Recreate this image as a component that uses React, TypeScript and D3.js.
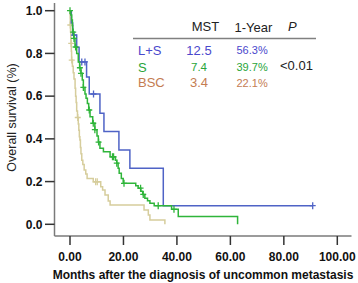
import React from "react";
import * as d3 from "d3";

// ---- data (months, survival proportion after each event) ----
const lsTimes = [0.5, 1.0, 2.5, 3.4, 6.2, 7.2, 11.2, 12.7, 18.3, 22.4, 34.9];
const lsSurv = [0.943, 0.886, 0.829, 0.76, 0.69, 0.61, 0.52, 0.434, 0.348, 0.262, 0.087];
const lsEnd = 90.8;
const lsCensor = [1.5, 4.4, 5.6, 8.8, 90.8];

const sTimes = [0.3, 0.64, 0.9, 1.0, 1.4, 1.87, 2.5, 3.1, 3.6, 4.1, 4.6, 5.0, 5.6, 6.0, 6.5, 7.0, 7.5, 8.5, 9.3, 10.1, 10.6, 11.2, 12.5, 15.0, 17.0, 17.5, 18.0, 18.4, 19.2, 19.9, 24.6, 25.5, 26.5, 27.2, 28.0, 29.0, 29.9, 31.5, 38.0, 40.5, 62.7];
const sSurv = [0.98, 0.957, 0.93, 0.9, 0.87, 0.83, 0.8, 0.76, 0.733, 0.707, 0.675, 0.641, 0.61, 0.59, 0.566, 0.535, 0.504, 0.473, 0.443, 0.413, 0.385, 0.356, 0.34, 0.316, 0.3, 0.286, 0.262, 0.239, 0.215, 0.192, 0.18, 0.169, 0.155, 0.14, 0.122, 0.11, 0.098, 0.087, 0.07, 0.036, 0];
const sEnd = 62.7;
const sCensor = [0, 1.2, 1.5, 2.1, 3.7, 4.1, 5.0, 7.2, 8.7, 9.3, 10.7, 15.9, 16.3, 17.5, 20.2, 26.4, 27.4, 33.0, 38.9];

const bscTimes = [0.05, 0.1, 0.2, 0.3, 0.4, 0.5, 0.6, 0.9, 1.2, 1.5, 1.9, 2.1, 2.3, 2.5, 2.8, 3.1, 3.3, 3.5, 3.7, 3.9, 4.1, 4.4, 4.8, 5.3, 5.9, 6.4, 8.7, 11.5, 12.2, 13.1, 14.3, 15.0, 27.7, 29.3, 29.9, 35.5];
const bscSurv = [0.967, 0.933, 0.9, 0.867, 0.847, 0.81, 0.769, 0.74, 0.71, 0.68, 0.637, 0.6, 0.57, 0.53, 0.5, 0.47, 0.44, 0.41, 0.395, 0.36, 0.33, 0.3, 0.28, 0.254, 0.235, 0.215, 0.199, 0.176, 0.161, 0.137, 0.109, 0.09, 0.067, 0.044, 0.02, 0];
const bscEnd = 35.5;
const bscCensor = [0.12, 0.45, 0.65, 2.9, 9.6, 10.2];

const xTicks = [0, 20, 40, 60, 80, 100];
const xTickLabels = ["0.00", "20.00", "40.00", "60.00", "80.00", "100.00"];
const yTicks = [0, 0.2, 0.4, 0.6, 0.8, 1.0];
const yTickLabels = ["0.0", "0.2", "0.4", "0.6", "0.8", "1.0"];

const groupNames = ["L+S", "S", "BSC"];
const mstValues = ["12.5", "7.4", "3.4"];
const oneYearValues = ["56.3%", "39.7%", "22.1%"];
const pValue = "<0.01";

const FONT = "'Liberation Sans', Arial, sans-serif";

const x = d3.scaleLinear().domain([0, 100]).range([70, 337.3]);
const y = d3.scaleLinear().domain([0, 1]).range([224.3, 10.7]);

function stepPts(times: number[], surv: number[], end: number): [number, number][] {
  const pts: [number, number][] = [[0, 1]];
  times.forEach((t, i) => pts.push([t, surv[i]]));
  const last = pts[pts.length - 1];
  if (last[0] < end) pts.push([end, last[1]]);
  return pts;
}
function levelAt(times: number[], surv: number[], t: number) {
  let s = 1;
  for (let i = 0; i < times.length; i++) if (times[i] <= t && surv[i] > 0) s = surv[i];
  return s;
}

const line = d3
  .line<[number, number]>()
  .x((d) => x(d[0]))
  .y((d) => y(d[1]))
  .curve(d3.curveStepAfter);

const series = [
  { name: "BSC", times: bscTimes, surv: bscSurv, end: bscEnd, censor: bscCensor, color: "#d6cd9c" },
  { name: "L+S", times: lsTimes, surv: lsSurv, end: lsEnd, censor: lsCensor, color: "#4f63c6" },
  { name: "S", times: sTimes, surv: sSurv, end: sEnd, censor: sCensor, color: "#2fb53a" },
];

const textColors = ["#4a48cc", "#28a53a", "#c47c52"];

export default function App() {
  return (
    <svg
      width={358}
      height={283}
      style={{ position: "absolute", left: 0, top: 0, background: "#fff" }}
      fontFamily={FONT}
    >
      <rect width={358} height={283} fill="#fff" />
      {/* axes */}
      <line x1={54.5} x2={54.5} y1={3} y2={236} stroke="#7a7a7a" strokeWidth={1.5} />
      <line x1={54.5} x2={351.5} y1={236} y2={236} stroke="#7a7a7a" strokeWidth={1.5} />
      {yTicks.map((t, i) => (
        <g key={"y" + i}>
          <line x1={45} x2={54.5} y1={y(t)} y2={y(t)} stroke="#333" strokeWidth={1.5} />
          <text x={42.5} y={y(t) + 4.3} textAnchor="end" fontSize={12} fontWeight="bold" fill="#111">
            {yTickLabels[i]}
          </text>
        </g>
      ))}
      {xTicks.map((t, i) => (
        <g key={"x" + i}>
          <line x1={x(t)} x2={x(t)} y1={236} y2={245} stroke="#333" strokeWidth={1.5} />
          <text x={x(t)} y={260.5} textAnchor="middle" fontSize={12} fontWeight="bold" fill="#111">
            {xTickLabels[i]}
          </text>
        </g>
      ))}
      <text x={203} y={279} textAnchor="middle" fontSize={12} fontWeight="bold" fill="#111">
        Months after the diagnosis of uncommon metastasis
      </text>
      <text
        transform={`translate(16,117.5) rotate(-90)`}
        textAnchor="middle"
        fontSize={12.5}
        fill="#222"
      >
        Overall survival (%)
      </text>

      {/* curves */}
      {series.map((s) => (
        <g key={s.name}>
          <path d={line(stepPts(s.times, s.surv, s.end)) || ""} fill="none" stroke={s.color} strokeWidth={1.5} />
          {s.censor.map((c, j) => {
            const cx = x(c);
            const cy = y(levelAt(s.times, s.surv, c));
            return (
              <path
                key={j}
                d={`M${cx - 3},${cy}H${cx + 3}M${cx},${cy - 3.5}V${cy + 3.5}`}
                stroke={s.color}
                strokeWidth={1.3}
                fill="none"
              />
            );
          })}
        </g>
      ))}

      {/* legend table */}
      <text x={205.5} y={31} textAnchor="middle" fontSize={13} fill="#222">MST</text>
      <text x={234.5} y={31.5} fontSize={13} fill="#222">1-Year</text>
      <text x={288} y={31} fontSize={13} fontStyle="italic" fill="#222">P</text>
      <line x1={133} x2={316} y1={38.5} y2={38.5} stroke="#808080" strokeWidth={1.6} />
      {groupNames.map((g, i) => {
        const base = [55, 72, 86.5][i];
        return (
          <g key={g}>
            <text x={138} y={base} fontSize={13} fill={textColors[i]}>{g}</text>
            <text x={199} y={[54.5, 71, 86.5][i]} textAnchor="middle" fontSize={[13, 11.5, 13][i]} fill={textColors[i]}>
              {mstValues[i]}
            </text>
            <text x={236.5} y={[53.5, 71, 86.5][i]} fontSize={11} fill={textColors[i]}>
              {oneYearValues[i]}
            </text>
          </g>
        );
      })}
      <text x={280} y={70} fontSize={13} fill="#222">{pValue}</text>
    </svg>
  );
}
